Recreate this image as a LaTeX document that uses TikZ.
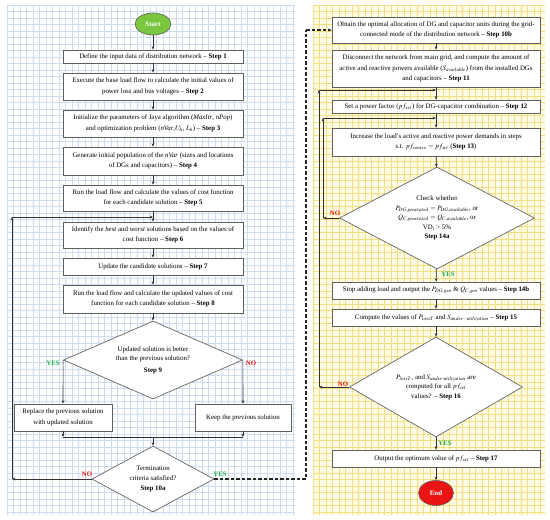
\documentclass[tikz,border=0pt]{standalone}
\usepackage{amsmath}
\usepackage{mathptmx}
\usepackage{fontspec}
\setmainfont{Liberation Serif}
\usepackage{tikz}
\usetikzlibrary{shapes.geometric, arrows.meta, positioning, calc}

\definecolor{boxgray}{RGB}{95,95,95}
\definecolor{linegray}{RGB}{50,50,50}
\definecolor{bluegrid}{RGB}{205,220,239}
\definecolor{yellowgrid}{RGB}{243,222,130}
\definecolor{yellowbg}{RGB}{255,252,230}
\definecolor{startgreen}{RGB}{122,198,62}
\definecolor{endred}{RGB}{235,20,20}
\definecolor{yesgreen}{RGB}{30,175,70}
\definecolor{nored}{RGB}{230,20,20}

\newcommand{\steptext}{\fontsize{6.85}{10.6}\selectfont}
\newcommand{\checktext}{\fontsize{6.85}{9.6}\selectfont}

\tikzset{
    stepbox/.style={draw=boxgray, fill=white, line width=0.65pt, align=center,
        inner sep=1pt, font=\steptext},
    leftbox/.style={stepbox, minimum width=180pt},
    rightbox/.style={stepbox, minimum width=208pt},
    checkbox/.style={diamond, draw=boxgray, fill=white, line width=0.65pt,
        align=center, inner sep=0pt, font=\checktext},
    startend/.style={ellipse, draw=boxgray, line width=0.6pt, text=white,
        inner sep=0pt, font=\fontsize{7}{8}\selectfont\bfseries},
    arrow/.style={-{Stealth[length=3.5pt,width=2.8pt]}, draw=linegray, line width=0.65pt},
    yeslabel/.style={text=yesgreen, font=\fontsize{6.8}{8}\selectfont\bfseries, inner sep=0pt},
    nolabel/.style={text=nored, font=\fontsize{6.8}{8}\selectfont\bfseries, inner sep=0pt}
}

\begin{document}
\begin{tikzpicture}[x=1pt, y=-1pt]

    \useasboundingbox (0,0) rectangle (550,520);

    % 1. grid backgrounds of the two stages
    \fill[white] (7,5) rectangle (295,515);
    \foreach \gx in {7,13.5,...,295} {
        \draw[bluegrid, line width=0.5pt] (\gx,5) -- (\gx,515);
    }
    \foreach \gy in {5,11.5,...,515} {
        \draw[bluegrid, line width=0.5pt] (7,\gy) -- (295,\gy);
    }
    \fill[yellowbg] (313,5) rectangle (545,515);
    \foreach \gx in {313,319.5,...,545} {
        \draw[yellowgrid, line width=0.7pt] (\gx,5) -- (\gx,515);
    }
    \foreach \gy in {5,11.5,...,515} {
        \draw[yellowgrid, line width=0.7pt] (313,\gy) -- (545,\gy);
    }

    % 2. first stage (grid-connected mode)
    \node[startend, fill=startgreen, minimum width=36pt, minimum height=22pt] (start) at (153,24) {Start};
    \node[leftbox, minimum height=13pt] (s1) at (153,56.5)
        {Define the input data of distribution network -- \textbf{Step 1}};
    \node[leftbox, minimum height=27pt] (s2) at (153,86.5)
        {Execute the base load flow to calculate the initial values of\\power loss and bus voltages -- \textbf{Step 2}};
    \node[leftbox, minimum height=27pt] (s3) at (153,123.5)
        {Initialize the parameters of Jaya algorithm (\textit{MaxItr}, \textit{nPop})\\and optimization problem (\textit{nVar},$U_b$, $L_b$) -- \textbf{Step 3}};
    \node[leftbox, minimum height=28pt] (s4) at (153,161)
        {Generate initial population of the \textit{nVar} (sizes and locations\\of DGs and capacitors) -- \textbf{Step 4}};
    \node[leftbox, minimum height=26pt] (s5) at (153,198)
        {Run the load flow and calculate the values of cost function\\for each candidate solution -- \textbf{Step 5}};
    \node[leftbox, minimum height=26pt] (s6) at (153,235)
        {Identify the \textit{best} and \textit{worst} solutions based on the values of\\cost function -- \textbf{Step 6}};
    \node[leftbox, minimum height=17pt] (s7) at (153,266.5)
        {Update the candidate solutions -- \textbf{Step 7}};
    \node[leftbox, minimum height=28pt] (s8) at (153,299)
        {Run the load flow and calculate the updated values of cost\\function for each candidate solution -- \textbf{Step 8}};
    \node[checkbox, minimum width=179pt, minimum height=78pt, shape aspect=2.3] (s9) at (153,360)
        {Updated solution is better\\than the previous solution?\\[2pt]\textbf{Step 9}};
    \node[stepbox, minimum width=98pt, minimum height=27pt] (replace) at (63,417.5)
        {Replace the previous solution\\with updated solution};
    \node[stepbox, minimum width=96pt, minimum height=27pt] (keep) at (243,417.5)
        {Keep the previous solution};
    \node[checkbox, minimum width=122pt, minimum height=66pt, shape aspect=1.85] (s10a) at (153,479)
        {Termination\\criteria satisfied?\\\textbf{Step 10a}};

    % 3. second stage (islanded mode)
    \node[rightbox, minimum height=26pt] (s10b) at (436,30)
        {Obtain the optimal allocation of DG and capacitor units during the grid-\\connected mode of the distribution network -- \textbf{Step 10b}};
    \node[rightbox, minimum height=37pt] (s11) at (436,68.5)
        {Disconnect the network from main grid, and compute the amount of\\active and reactive powers available ($S_{available}$) from the installed DGs\\and capacitors -- \textbf{Step 11}};
    \node[rightbox, minimum height=13pt] (s12) at (436,106.5)
        {Set a power factor ($pf_{set}$) for DG-capacitor combination -- \textbf{Step 12}};
    \node[rightbox, minimum height=28pt] (s13) at (436,142)
        {Increase the load's active and reactive power demands in steps\\s.t. $pf_{source}=pf_{set}$ (\textbf{Step 13})};
    \node[checkbox, minimum width=195pt, minimum height=102pt, shape aspect=1.9] (s14a) at (437,218)
        {Check whether\\$P_{DG,generated}=P_{DG,available}$, or\\$Q_{C,generated}=Q_{C,available}$, or\\VD$_i$ > 5\%\\\textbf{Step 14a}};
    \node[rightbox, minimum height=17pt] (s14b) at (436,290.5)
        {Stop adding load and output the $P_{DG,gen}$ \& $Q_{C,gen}$ values -- \textbf{Step 14b}};
    \node[rightbox, minimum height=17pt] (s15) at (436,317.5)
        {Compute the values of $P_{lossT}$ and $S_{under-utilization}$ -- \textbf{Step 15}};
    \node[checkbox, minimum width=173pt, minimum height=100pt, shape aspect=1.73] (s16) at (436,387)
        {$P_{lossT}$, and $S_{under\text{-}utilization}$ are\\computed for all $pf_{set}$\\values? -- \textbf{Step 16}};
    \node[rightbox, minimum height=17pt] (s17) at (436,458.5)
        {Output the optimum value of $pf_{set}$ -- \textbf{Step 17}};
    \node[startend, fill=endred, minimum width=35pt, minimum height=25pt] (end) at (436,493) {End};

    % 4. straight connectors
    \foreach \a/\b in {start/s1, s1/s2, s2/s3, s3/s4, s4/s5, s5/s6, s6/s7, s7/s8, s8/s9,
        s10b/s11, s11/s12, s12/s13, s13/s14a, s14a/s14b, s14b/s15, s15/s16, s16/s17, s17/end} {
        \draw[arrow] (\a) -- (\b);
    }
    \draw[arrow] (s9.west) -- (replace.north);
    \draw[arrow] (s9.east) -- (keep.north);

    % merge of both branches
    \coordinate (merge) at (153,437);
    \draw[arrow] (replace.south) -- (replace.south |- merge);
    \draw[arrow] (keep.south) -- (keep.south |- merge);
    \draw[linegray, line width=0.65pt] (replace.south |- merge) -- (keep.south |- merge);
    \draw[arrow] (merge) -- (s10a.north);

    % 5. feedback loops
    \coordinate (loopA) at (12,479);
    \coordinate (loopB) at (12,217);
    \draw[arrow] (s10a.west) -- (loopA);
    \draw[arrow] (loopA) -- (loopB);
    \draw[arrow] (loopB) -- (loopB -| s6.north);

    \coordinate (loadA) at (323,218);
    \coordinate (loadB) at (323,118);
    \draw[arrow] (s14a.west) -- (loadA);
    \draw[arrow] (loadA) -- (loadB);
    \draw[arrow] (loadB) -- (loadB -| s13.north);

    \coordinate (pfA) at (319,387);
    \coordinate (pfB) at (319,90);
    \draw[arrow] (s16.west) -- (pfA);
    \draw[arrow] (pfA) -- (pfB);
    \draw[arrow] (pfB) -- (pfB -| s12.north);

    % link between the two stages
    \coordinate (linkA) at (306,479);
    \coordinate (linkB) at (306,30);
    \draw[black!85, line width=1.1pt, dash pattern=on 3.5pt off 2pt] (s10a.east) -- (linkA) -- (linkB);
    \draw[arrow, draw=black!85, line width=1.1pt, dash pattern=on 3.5pt off 2pt] (linkB) -- (s10b.west);

    % 6. decision labels
    \node[yeslabel] (yes9) at (53,363) {YES};
    \node[nolabel] (no9) at (251,363) {NO};
    \node[nolabel] (no10) at (87,474) {NO};
    \node[yeslabel] (yes10) at (220,474) {YES};
    \node[nolabel] (no14) at (335,213) {NO};
    \node[yeslabel] (yes14) at (448,274) {YES};
    \node[nolabel] (no16) at (343,384) {NO};
    \node[yeslabel] (yes16) at (445,443) {YES};

\end{tikzpicture}
\end{document}
